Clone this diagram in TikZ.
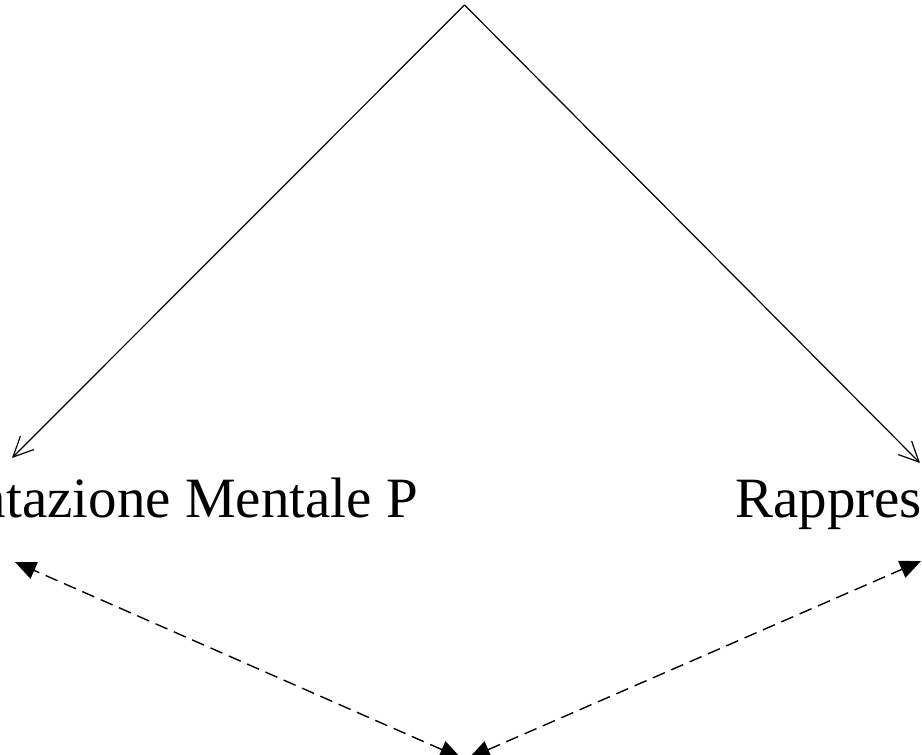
\documentclass[tikz,border=0pt]{standalone}
\usepackage{fontspec}
\setmainfont{Liberation Serif}
\usetikzlibrary{arrows.meta}
\begin{document}
\begin{tikzpicture}[x=1pt,y=-1pt,
  lbl/.style={inner sep=0pt,font=\fontsize{57}{62}\selectfont},
  solidarr/.style={line width=1.2pt,-{Straight Barb[length=20pt,width=19pt,line width=1.2pt]}},
  dasharr/.style={line width=1.4pt,dash pattern=on 13pt off 7pt,
    {Triangle[length=21pt,width=18pt]}-{Triangle[length=21pt,width=18pt]}}]
\useasboundingbox (0,0) rectangle (922,755);
\clip (0,0) rectangle (922,755);
\coordinate (top) at (464.5,5);
\coordinate (L) at (12,458);
\coordinate (R) at (920,463);
\node[lbl,anchor=base east] (lt) at (418,517) {ntazione Mentale P};
\node[lbl,anchor=base west] (rt) at (735,517) {Rappres};
\coordinate (DL) at (15,562);
\coordinate (DR) at (921,561);
\coordinate (B1) at (461,758);
\coordinate (B2) at (469,758);
\draw[solidarr] (top) -- (L);
\draw[solidarr] (top) -- (R);
\draw[dasharr] (B1) -- (DL);
\draw[dasharr] (B2) -- (DR);
\end{tikzpicture}
\end{document}
